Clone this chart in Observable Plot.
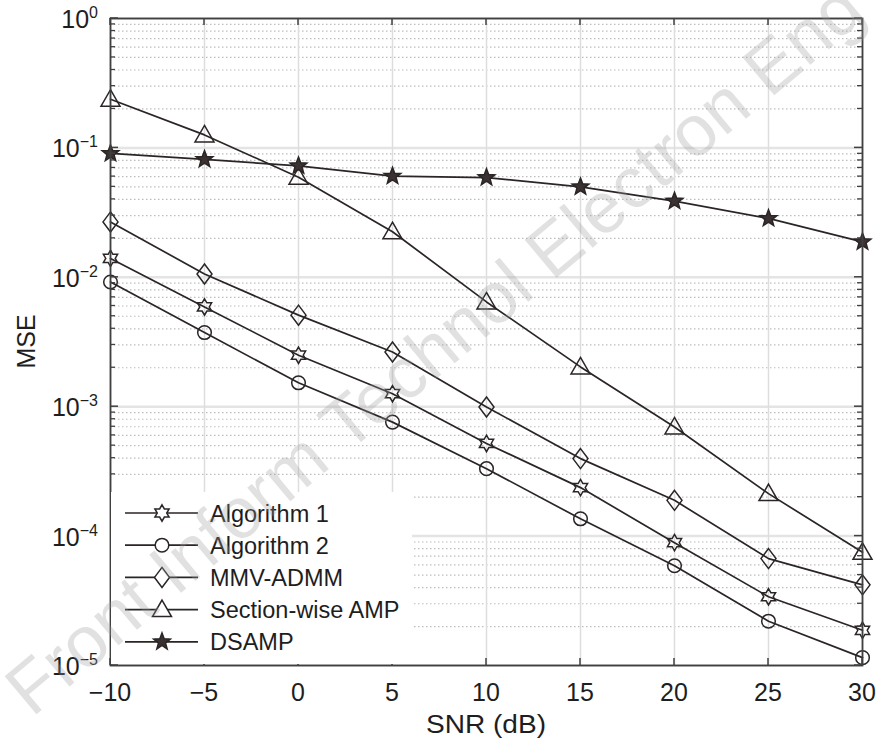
<!DOCTYPE html>
<html><head><meta charset="utf-8">
<script src="https://cdn.jsdelivr.net/npm/d3@7"></script>
<script src="https://cdn.jsdelivr.net/npm/@observablehq/plot@0.6"></script>
<style>body{margin:0;background:#fff;} svg{font-family:"Liberation Sans",Arial,sans-serif;}</style>
</head><body><div id="chart"></div>
<script>
// ---- data ----
const snr = [-10, -5, 0, 5, 10, 15, 20, 25, 30];
const algorithm1 = [0.0140, 0.0059, 0.0025, 0.00126, 5.2e-4, 2.37e-4, 8.9e-5, 3.4e-5, 1.87e-5];
const algorithm2 = [0.0092, 0.00374, 0.00153, 7.6e-4, 3.32e-4, 1.36e-4, 5.9e-5, 2.2e-5, 1.15e-5];
const mmvAdmm = [0.0268, 0.0106, 0.0051, 0.00265, 9.95e-4, 3.97e-4, 1.89e-4, 6.7e-5, 4.2e-5];
const sectionwiseAmp = [0.238, 0.126, 0.0594, 0.0225, 0.00645, 0.00203, 6.97e-4, 2.13e-4, 7.5e-5];
const dsamp = [0.0906, 0.0815, 0.0727, 0.0605, 0.0590, 0.050, 0.0388, 0.0285, 0.0188];
const seriesNames = ["Algorithm 1", "Algorithm 2", "MMV-ADMM", "Section-wise AMP", "DSAMP"];
const xTicks = [-10, -5, 0, 5, 10, 15, 20, 25, 30];
const yExponents = [0, -1, -2, -3, -4, -5];
const xLabel = "SNR (dB)";
const yLabel = "MSE";
const watermark = "Front Inform Technol Electron Eng";

// ---- symbols ----
const ink = "#2b2525";
function poly(ctx, pts) { ctx.moveTo(pts[0][0], pts[0][1]); for (let i = 1; i < pts.length; i++) ctx.lineTo(pts[i][0], pts[i][1]); ctx.closePath(); }
function starPts(n, R, r0, rot) { const p = []; for (let i = 0; i < 2 * n; i++) { const a = rot + i * Math.PI / n; const rr = i % 2 ? r0 : R; p.push([rr * Math.sin(a), -rr * Math.cos(a)]); } return p; }
const k = s => Math.sqrt(s / Math.PI) / 7;
const symHexagram = { draw(ctx, s) { const f = k(s); poly(ctx, starPts(6, 8.2 * f, 8.2 * f / Math.sqrt(3), 0)); } };
const symCircle = { draw(ctx, s) { const f = k(s); ctx.moveTo(6.8 * f, 0); ctx.arc(0, 0, 6.8 * f, 0, 2 * Math.PI); } };
const symDiamond = { draw(ctx, s) { const f = k(s); poly(ctx, [[0, -10 * f], [7.5 * f, 0], [0, 10 * f], [-7.5 * f, 0]]); } };
const symTriangle = { draw(ctx, s) { const f = k(s); poly(ctx, [[0, -9.5 * f], [9.5 * f, 7 * f], [-9.5 * f, 7 * f]]); } };
const symPentagram = { draw(ctx, s) { const f = k(s); poly(ctx, starPts(5, 8.8 * f, 8.8 * f * 0.42, 0)); } };
const symbols = [symHexagram, symCircle, symDiamond, symTriangle, symPentagram];
const fills = ["none", "none", "none", "none", "#3a3232"];
const values = [algorithm1, algorithm2, mmvAdmm, sectionwiseAmp, dsamp];

const rows = [];
seriesNames.forEach((name, i) => snr.forEach((x, j) => rows.push({ name, snr: x, mse: values[i][j] })));

const majorY = yExponents.map(e => Math.pow(10, e));
const minorY = [];
for (let e = -5; e < 0; e++) for (let m = 2; m <= 9; m++) minorY.push(m * Math.pow(10, e));

const dotMarks = seriesNames.map((name, i) => Plot.dot(rows.filter(d => d.name === name), {
  x: "snr", y: "mse", r: 7, symbol: symbols[i], stroke: ink, strokeWidth: 1.5, fill: fills[i]
}));

const chart = Plot.plot({
  width: 878, height: 744,
  marginLeft: 110, marginRight: 16, marginTop: 18, marginBottom: 79,
  x: { domain: [-10, 30], axis: null },
  y: { type: "log", domain: [1e-5, 1], axis: null },
  marks: [
    Plot.ruleY(minorY, { stroke: "#bdbdbd", strokeWidth: 1.2, strokeDasharray: "1.5,2.5" }),
    Plot.ruleY(majorY, { stroke: "#e4e4e4", strokeWidth: 2.5 }),
    Plot.ruleX(xTicks, { stroke: "#dddddd", strokeWidth: 1.5 }),
    Plot.line(rows, { x: "snr", y: "mse", z: "name", stroke: ink, strokeWidth: 1.7 }),
    ...dotMarks,
    Plot.frame({ stroke: "#404040", strokeWidth: 1.8 })
  ]
});
document.getElementById("chart").appendChild(chart);

// ---- axes, ticks, labels, legend (positions from Plot's scales) ----
const sx = chart.scale("x"), sy = chart.scale("y");
const X = v => sx.apply(v), Y = v => sy.apply(v);
const svg = d3.select(chart);
const x0 = X(-10), x1 = X(30), y0 = Y(1), y1 = Y(1e-5);
const g = svg.append("g").attr("fill", "#1e1e1e").attr("text-anchor", "start");
// ticks (inward)
xTicks.forEach(t => {
  g.append("line").attr("x1", X(t)).attr("x2", X(t)).attr("y1", y1).attr("y2", y1 - 7).attr("stroke", "#404040").attr("stroke-width", 1.5);
  g.append("line").attr("x1", X(t)).attr("x2", X(t)).attr("y1", y0).attr("y2", y0 + 7).attr("stroke", "#404040").attr("stroke-width", 1.5);
  g.append("text").attr("x", X(t)).attr("y", y1 + 36).attr("text-anchor", "middle").attr("font-size", 25)
    .text(t < 0 ? "\u2212" + Math.abs(t) : String(t));
});
majorY.forEach(v => {
  [[x0, 8], [x1, -8]].forEach(([xx, l]) => g.append("line").attr("x1", xx).attr("x2", xx + l).attr("y1", Y(v)).attr("y2", Y(v)).attr("stroke", "#404040").attr("stroke-width", 1.5));
});
minorY.forEach(v => {
  [[x0, 5], [x1, -5]].forEach(([xx, l]) => g.append("line").attr("x1", xx).attr("x2", xx + l).attr("y1", Y(v)).attr("y2", Y(v)).attr("stroke", "#404040").attr("stroke-width", 1.3));
});
yExponents.forEach(e => {
  const t = g.append("text").attr("x", x0 - 12).attr("y", Y(Math.pow(10, e)) + 10).attr("text-anchor", "end");
  t.append("tspan").attr("font-size", 25).text("10");
  t.append("tspan").attr("font-size", 16).attr("dy", -10).text(e < 0 ? "\u2212" + Math.abs(e) : String(e));
});
g.append("text").attr("x", (x0 + x1) / 2).attr("y", 733).attr("text-anchor", "middle").attr("font-size", 25)
  .attr("textLength", 120).attr("lengthAdjust", "spacingAndGlyphs").text(xLabel);
g.append("text").attr("transform", `translate(35,${(y0 + y1) / 2}) rotate(-90)`).attr("text-anchor", "middle").attr("font-size", 25).text(yLabel);

// legend
const lg = svg.append("g").attr("text-anchor", "start");
lg.append("rect").attr("x", x0 + 1).attr("y", 492).attr("width", 301).attr("height", y1 - 493).attr("fill", "#fff");
seriesNames.forEach((name, i) => {
  const yy = 513 + i * 32.2;
  lg.append("line").attr("x1", 125).attr("x2", 198).attr("y1", yy).attr("y2", yy).attr("stroke", ink).attr("stroke-width", 1.7);
  const p = d3.path(); symbols[i].draw(p, Math.PI * 49);
  lg.append("path").attr("d", p.toString()).attr("transform", `translate(162,${yy})`).attr("stroke", ink).attr("stroke-width", 1.5).attr("fill", fills[i] === "none" ? "#fff" : fills[i]);
  lg.append("text").attr("x", 210).attr("y", yy + 8.5).attr("font-size", 23.5).attr("fill", "#1e1e1e").text(name);
});
// watermark
svg.append("text").attr("text-anchor", "start").attr("transform", "translate(32,718) rotate(-40)").attr("font-size", 72)
  .attr("fill", "#9a9a9a").attr("fill-opacity", 0.3).text(watermark);
</script></body></html>
